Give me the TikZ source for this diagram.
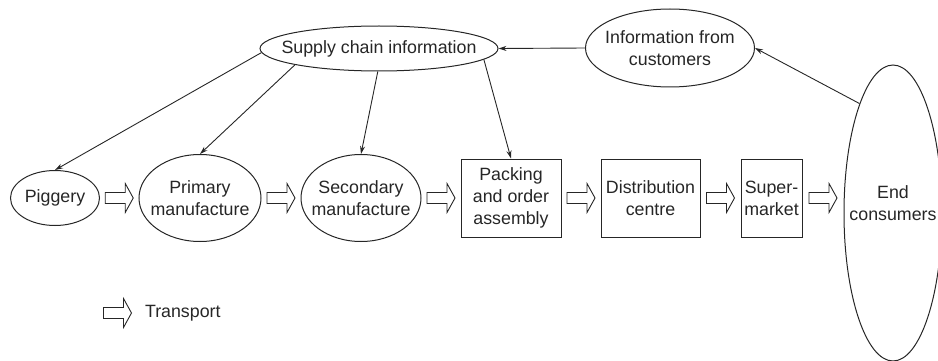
\documentclass[tikz,border=0pt]{standalone}
\usepackage{fontspec}
\setmainfont{Liberation Sans}
\usetikzlibrary{arrows.meta,calc,shapes.geometric}
\begin{document}
\begin{tikzpicture}[x=1pt,y=-1pt,
  every node/.style={font=\fontsize{17.8}{22}\selectfont, text=black!85},
  line/.style={draw=black!85, line width=1pt},
  ell/.style={line, ellipse, inner sep=0pt},
  box/.style={line, rectangle, inner sep=0pt, align=center, minimum height=78pt},
  info/.style={draw=black!85, line width=0.9pt, -{Stealth[length=8pt,width=5pt]}},
  transport/.pic={
    \draw[line, line width=0.9pt, fill=white]
      (-14,-5.5) -- (6,-5.5) -- (6,-14.5) -- (14,0) -- (6,14.5) -- (6,5.5) -- (-14,5.5) -- cycle;
  }]
  \useasboundingbox (0,0) rectangle (938,361);
  \clip (0,0) rectangle (938,361);

  % production chain
  \node[ell, minimum width=89pt, minimum height=55pt, label={center:Piggery}] (pig) at (55,198) {};
  \node[ell, minimum width=122pt, minimum height=87pt,
        label={[align=center]center:Primary\\manufacture}] (pm) at (200,198) {};
  \node[ell, minimum width=120pt, minimum height=87pt,
        label={[align=center]center:Secondary\\manufacture}] (sm) at (361,198) {};
  \node[box, minimum width=100pt] (pk) at (511,198) {Packing\\and order\\assembly};
  \node[box, minimum width=99pt] (dc) at (650.5,198) {Distribution\\centre};
  \node[box, minimum width=61pt] (sup) at (771.5,198) {Super-\\market};
  \node[ell, minimum width=98pt, minimum height=296pt,
        label={[align=center, yshift=10pt]center:End\\consumers}] (ec) at (893,213) {};

  % information flow
  \node[ell, minimum width=238pt, minimum height=45pt,
        label={center:Supply chain information}] (sci) at (379,48.5) {};
  \node[ell, minimum width=169pt, minimum height=78pt,
        label={[align=center]center:Information from\\customers}] (ifc) at (670,48) {};

  % transport arrows between stages
  \path ($(pig.east)!0.5!(pm.west)$) pic {transport};
  \path ($(pm.east)!0.5!(sm.west)$) pic {transport};
  \path ($(sm.east)!0.5!(pk.west)$) pic {transport};
  \path ($(pk.east)!0.5!(dc.west)$) pic {transport};
  \path ($(dc.east)!0.5!(sup.west)$) pic {transport};
  \path ($(sup.east)!0.5!(ec.west |- sup.east)$) pic {transport};

  % information connectors
  \draw[info] (ec.107) -- (ifc.east);
  \draw[info] (ifc.west) -- (sci.east);
  \draw[info] (sci.182) -- (pig.north);
  \draw[info] (sci.191) -- (pm.north);
  \draw[info] (sci.267) -- (sm.north);
  \draw[info] (sci.354) -- (pk.north);

  % legend
  \coordinate (legend) at (117.5,313);
  \path (legend) pic {transport};
  \node[anchor=west] (legtext) at ($(legend)+(24,0)$) {Transport};
\end{tikzpicture}
\end{document}
